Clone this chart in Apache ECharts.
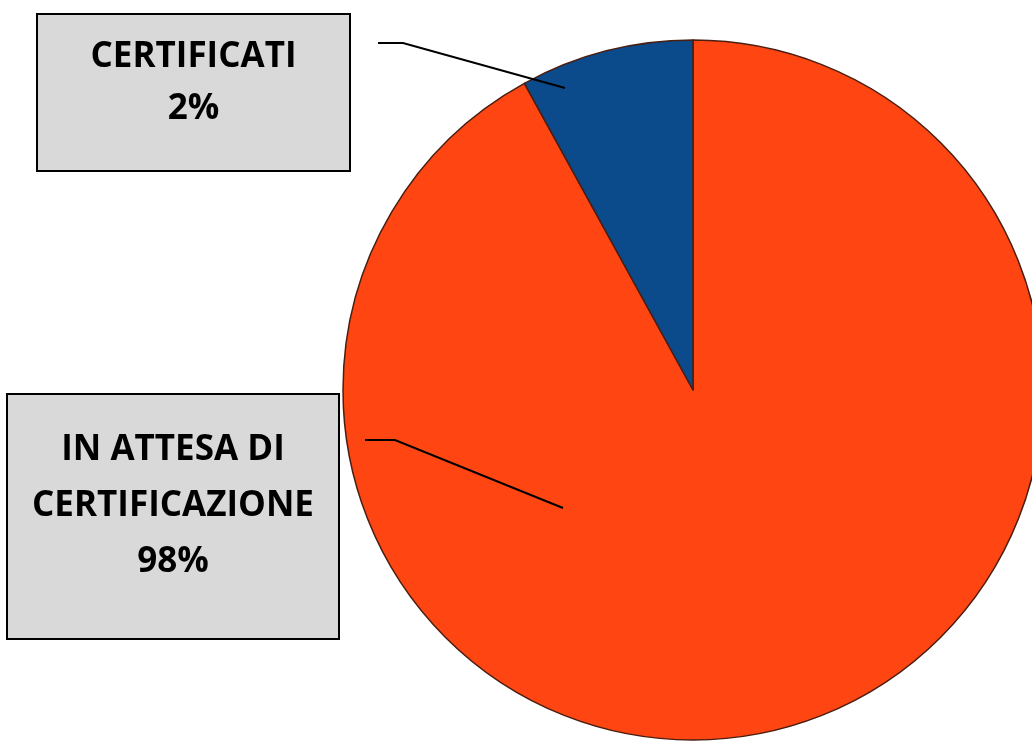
<!DOCTYPE html>
<html><head><meta charset="utf-8">
<script src="https://cdn.jsdelivr.net/npm/echarts@6/dist/echarts.min.js"></script>
<style>html,body{margin:0;padding:0;background:#fff}#c{width:1032px;height:747px}</style>
</head><body><div id="c"></div>
<script>
// ---- data ----
const categories = ['IN ATTESA DI\nCERTIFICAZIONE', 'CERTIFICATI'];
const sliceValues = [92, 8];
const percentLabels = ['98%', '2%'];

// ---- styles / layout ----
const sliceColors = ['#FF4612', '#0B4A8B'];
const labelBoxes = [
  {x: 8, y: 395, w: 330, h: 243, padTop: 27, lineHeight: 56, lines: 3, line: [[563,508],[395,440],[365,440]]},
  {x: 38, y: 15, w: 311, h: 155, padTop: 16, lineHeight: 52, lines: 2, line: [[565,88],[403,43],[378,43]]}
];
const FONT = "'Open Sans', sans-serif";
const CENTER = [693, 390];
const RADIUS = 350;

const chart = echarts.init(document.getElementById('c'), null, {renderer: 'canvas'});

const sliceData = categories.map((name, i) => ({
  name: name, value: sliceValues[i], itemStyle: {color: sliceColors[i]}
}));
const labelData = categories.map((name, i) => {
  const b = labelBoxes[i];
  return {
    name: name,
    value: sliceValues[i],
    label: {
      lineHeight: b.lineHeight,
      width: b.w,
      padding: [b.padTop, 0, b.h - b.padTop - b.lines * b.lineHeight, 0]
    }
  };
});

chart.setOption({
  animation: false,
  series: [{
    type: 'pie',
    z: 2,
    center: CENTER,
    radius: RADIUS,
    startAngle: 90,
    clockwise: true,
    data: sliceData,
    itemStyle: {borderColor: '#4a1e10', borderWidth: 1.5},
    emphasis: {disabled: true},
    label: {show: false},
    labelLine: {show: false}
  }, {
    type: 'pie',
    z: 5,
    silent: true,
    center: CENTER,
    radius: RADIUS,
    startAngle: 90,
    clockwise: true,
    data: labelData,
    itemStyle: {color: 'rgba(0,0,0,0)', borderWidth: 0},
    emphasis: {disabled: true},
    label: {
      show: true,
      position: 'outside',
      formatter: p => p.name + '\n' + percentLabels[p.dataIndex],
      fontFamily: FONT,
      fontWeight: 'bold',
      fontSize: 35,
      color: '#000',
      align: 'center',
      backgroundColor: '#d9d9d9',
      borderColor: '#000',
      borderWidth: 2
    },
    labelLine: {show: true, lineStyle: {color: '#000', width: 2}, smooth: false},
    labelLayout: function (params) {
      const b = labelBoxes[params.dataIndex];
      return {
        x: b.x + b.w / 2, y: b.y, align: 'center', verticalAlign: 'top',
        labelLinePoints: b.line.map(p => p.slice())
      };
    }
  }]
});
</script></body></html>
